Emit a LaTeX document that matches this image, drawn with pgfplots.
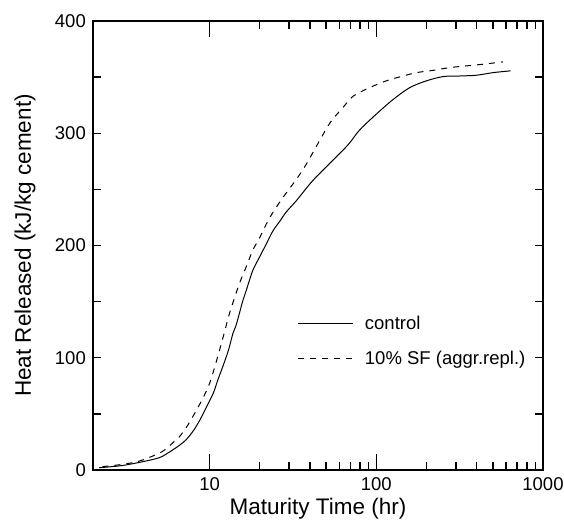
\documentclass[border=0pt]{standalone}
\usepackage{fontspec}
\setmainfont{Liberation Sans}
\usepackage{pgfplots}
\pgfplotsset{compat=1.18}

% heat release vs maturity time
\pgfplotstableread{
x      y
2.18   2
3.0    4
3.97   7.4
5.0    11
5.75   16
6.6    22
7.24   27
8.0    35
8.71   44
9.5    55
10.5   68
11.2   80
12.0   92
13.0   107
13.8   121.5
14.5   130
15.85  151
16.6   160
18.2   178
20.0   190
22.0   202
24.0   213
26.5   222
28.9   230
33.2   240
41.7   258
55.0   276
68.0   290
79.6   303
100    317
126    330
159    340.7
200    346.7
252    350.5
316    351
400    351.7
502    354
640    355.6
}\control

\pgfplotstableread{
x      y
2.28   3
3.0    5
3.8    8
5.0    15
5.6    20
6.3    27
6.6    29.6
7.41   40
8.32   53
9.12   64
10.0   77
11.0   97
12.3   123
13.2   140
15.1   166
16.6   181
18.2   196
20.0   207
22.4   222
25.1   234
28.9   247
33.2   259
38.1   272.6
48.0   299
53.8   311
63.2   323
72.6   333
91.4   340.7
115    346.7
145    351
174    354
219    356
276    358.5
347    360
437    361.5
577    363.6
}\silica

\newcommand{\tickfont}{\fontsize{18.5bp}{20bp}\selectfont}
\newcommand{\labfont}{\fontsize{22.5bp}{24bp}\selectfont}

\begin{document}
\begin{tikzpicture}
\begin{axis}[
    name=ax,
    scale only axis,
    width=450bp, height=449bp,
    xmode=log,
    xmin=2, xmax=1000,
    ymin=0, ymax=400,
    tick align=inside,
    axis line style={line width=1.8bp},
    every tick/.style={black, line width=1.4bp},
    /pgf/number format/assume math mode=true,
    tick label style={font=\tickfont},
    major tick length=16bp,
    minor tick length=8bp,
    xtick={10,100,1000},
    xticklabels={10,100,1000},
    xticklabel style={inner sep=0pt, anchor=north, yshift=-7bp},
    ytick=\empty,
    xlabel={Maturity Time (hr)},
    xlabel style={font=\labfont, at={(axis description cs:0.5,-0.1)}, anchor=base, inner sep=0pt},
    ylabel={Heat Released (kJ/kg cement)},
    ylabel style={font=\labfont, at={(axis description cs:-0.138,0.5)}, anchor=base, inner sep=0pt},
    legend style={draw=none, fill=none, font=\fontsize{18.5bp}{20bp}\selectfont,
        at={(axis description cs:0.455,0.287)}, anchor=west,
        inner sep=0pt, row sep=20bp, column sep=11bp,
        nodes={inner sep=0pt}},
    legend cell align=left,
    legend image code/.code={\draw[#1] (0bp,0bp) -- (55bp,0bp);},
]
\addplot[black, line width=1bp, smooth] table[x=x, y=y] {\control};
\addplot[black, line width=1bp, smooth, dash pattern=on 6bp off 6bp] table[x=x, y=y] {\silica};
\legend{control, 10\% SF (aggr.repl.)}
\end{axis}

\begin{axis}[
    scale only axis,
    width=450bp, height=449bp,
    xmode=log,
    xmin=2, xmax=1000,
    ymin=0, ymax=400,
    tick align=inside,
    axis line style={line width=1.8bp},
    every tick/.style={black, line width=1.4bp},
    /pgf/number format/assume math mode=true,
    tick label style={font=\tickfont},
    major tick length=8bp,
    xtick=\empty,
    ytick={0,50,...,400},
    yticklabels={0,,100,,200,,300,,400},
    yticklabel style={inner sep=0pt, anchor=east, xshift=-7bp},
]
\addplot[draw=none] table[x=x, y=y] {\control};
\end{axis}

\pgfresetboundingbox
\path[use as bounding box] ([shift={(-93bp,-51bp)}]ax.south west) rectangle ([shift={(21bp,21bp)}]ax.north east);
\end{tikzpicture}
\end{document}
